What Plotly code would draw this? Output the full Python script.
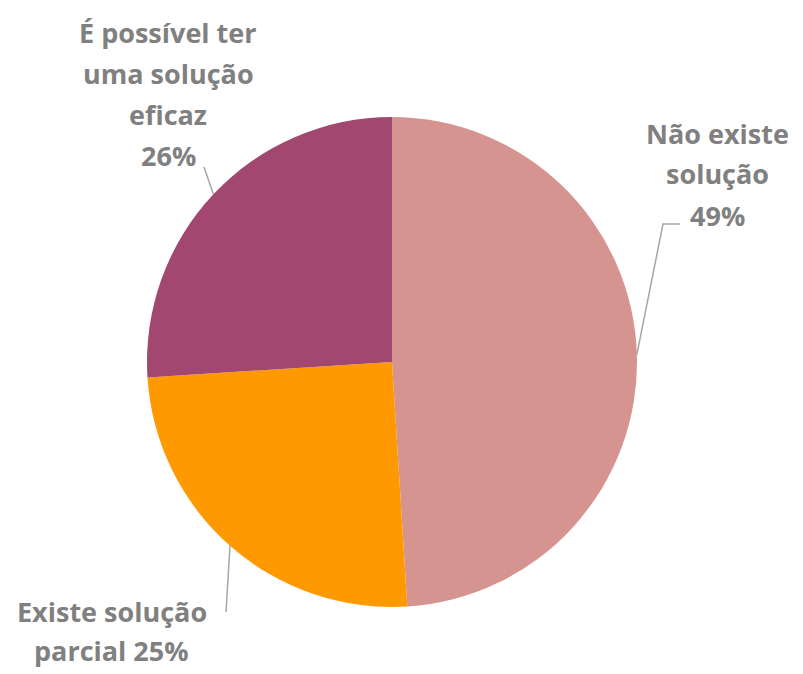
import numpy as np
import plotly.graph_objects as go

labels = ["Não existe solução", "Existe solução parcial", "É possível ter uma solução eficaz"]
values = [49, 25, 26]
colors = ["#D69491", "#FF9900", "#A2476F"]
label_lines = [["Não existe", "solução", "49%"],
               ["Existe solução", "parcial 25%"],
               ["É possível ter", "uma solução", "eficaz", "26%"]]

W, H = 803, 674
OFF = 8  # page body margin
cx, cy, R = 392, 362, 245

def px(x):
    return (x - OFF) / W

def py(y):
    return 1 - (y - OFF) / H

fig = go.Figure(go.Pie(
    labels=labels, values=values, sort=False, direction="clockwise", rotation=0,
    marker=dict(colors=colors, line=dict(width=0)),
    textinfo="none", hoverinfo="label+percent", showlegend=False,
    domain=dict(x=[px(cx - R), px(cx + R)], y=[py(cy + R), py(cy - R)]),
))

# first-line centre of each label block, line gap and leader-line elbows (pixels)
label_pos = [(717, 133), (112, 611), (168, 32)]
line_gaps = [41, 39, 41]
elbows = [[(663, 224), (680, 224)], [(226, 612)], [(204, 167)]]

tot = sum(values)
cum = 0
shapes = []
for v, el in zip(values, elbows):
    mid = (cum + v / 2) / tot * 2 * np.pi
    cum += v
    ex = cx + R * np.sin(mid)
    ey = cy - R * np.cos(mid)
    pts = [(ex, ey)] + el
    path = "M " + " L ".join(f"{px(x):.5f},{py(y):.5f}" for x, y in pts)
    shapes.append(dict(type="path", path=path, xref="paper", yref="paper",
                       line=dict(color="#A6A6A6", width=1.5)))

annotations = []
for lines, (lx, ly), gap in zip(label_lines, label_pos, line_gaps):
    for i, t in enumerate(lines):
        annotations.append(dict(text=t, x=px(lx), y=py(ly + i * gap),
                                xref="paper", yref="paper",
                                xanchor="center", yanchor="middle", showarrow=False,
                                font=dict(family="Open Sans", size=27, color="#808080",
                                          weight="bold")))

fig.update_layout(width=W, height=H, margin=dict(l=0, r=0, t=0, b=0),
                  paper_bgcolor="white", plot_bgcolor="white",
                  shapes=shapes, annotations=annotations)
fig.write_html("out.html")
